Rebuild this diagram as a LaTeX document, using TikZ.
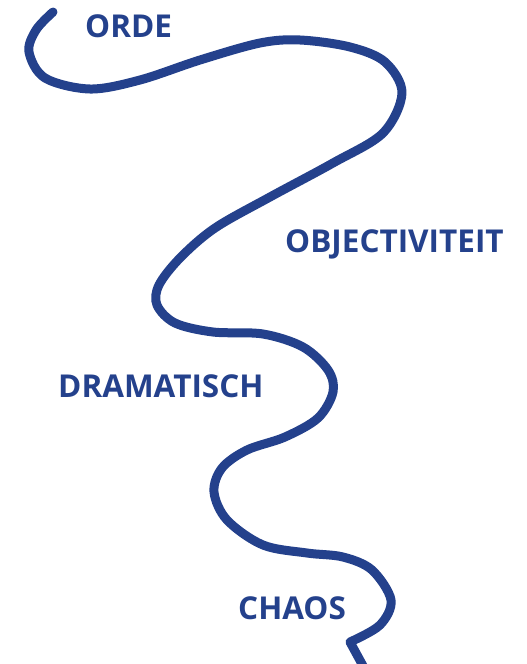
\documentclass[tikz,border=0pt]{standalone}
\usepackage{fontspec}
\setmainfont{Open Sans}
\definecolor{wavblue}{RGB}{36,65,140}
\tikzset{
  lbl/.style={anchor=base west, inner sep=0pt, text=wavblue, font=\fontsize{31.5}{36}\selectfont\bfseries},
  wave/.style={draw=wavblue, line width=9pt, line cap=round, line join=round}
}
\begin{document}
\begin{tikzpicture}[x=1pt,y=-1pt]
\useasboundingbox (0,0) rectangle (527,664);
\draw[wave] plot[smooth, tension=0.55] coordinates {
 (53,12) (36,30) (29,52) (45,78) (90,89) (140,80) (200,60) (260,43) (300,40)
 (350,47) (385,62) (402,93) (383,133) (333,163) (270,197) (215,228) (180,258)
 (159,285) (157,305) (175,323) (213,332) (263,334) (303,347) (328,370) (333,392)
 (318,418) (285,437) (247,450) (222,468) (214,492) (227,520) (263,545) (307,553)
 (343,557) (372,570) (391,600) (380,625) (350,642)} -- (368,675);
\node[lbl] (orde) at (85,37) {ORDE};
\node[lbl] (obj) at (285,252) {OBJECTIVITEIT};
\node[lbl] (dram) at (58,397) {DRAMATISCH};
\node[lbl] (chaos) at (238,619) {CHAOS};
\end{tikzpicture}
\end{document}
